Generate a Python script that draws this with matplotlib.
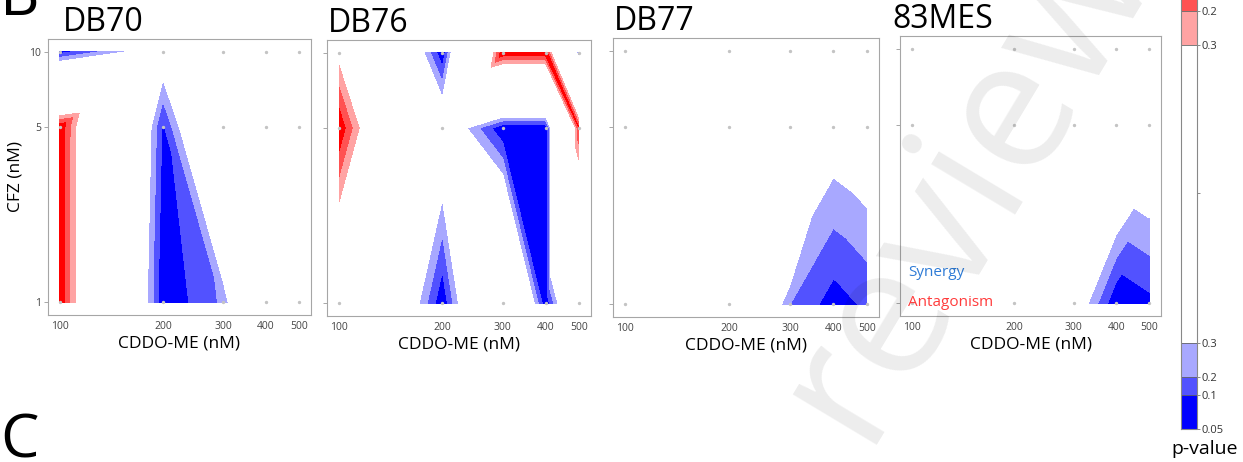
import numpy as np
import matplotlib.pyplot as plt
import matplotlib.tri as mtri
from matplotlib.colors import ListedColormap, BoundaryNorm
from matplotlib.cm import ScalarMappable

plt.rcParams['font.family'] = ['Open Sans', 'DejaVu Sans']

# dose grid
cddo = [100, 200, 300, 400, 500]
cfz = [1, 5, 10]
cddo_labels = ['100', '200', '300', '400', '500']
cfz_labels = ['1', '5', '10']

panel_names = ['DB70', 'DB76', 'DB77', '83MES']

# p-values, rows = CFZ 1, 5, 10 ; columns = CDDO-ME 100..500
p_db70 = [[0.01, 0.01, 0.22, 0.90, 0.95],
          [0.01, 0.08, 0.89, 1.00, 1.00],
          [0.05, 0.43, 0.95, 1.00, 1.00]]
p_db76 = [[0.70, 0.01, 0.90, 0.01, 0.80],
          [0.01, 0.50, 0.01, 0.01, 0.10],
          [0.36, 0.01, 0.01, 0.01, 0.18]]
p_db77 = [[1.00, 0.91, 0.20, 0.05, 0.12],
          [1.00, 1.00, 0.90, 0.40, 0.45],
          [1.00, 1.00, 1.00, 1.00, 1.00]]
p_83mes = [[1.00, 1.00, 0.45, 0.01, 0.07],
           [1.00, 1.00, 1.00, 0.76, 0.55],
           [1.00, 1.00, 1.00, 1.00, 1.00]]

# direction of the interaction: -1 synergy, +1 antagonism
eff_db70 = [[1, -1, -1, -1, -1],
            [1, -1, -1, -1, -1],
            [-1, -1, -1, -1, -1]]
eff_db76 = [[1, -1, 1, -1, -1],
            [1, -1, -1, -1, 1],
            [1, -1, 1, 1, -1]]
eff_db77 = [[-1, -1, -1, -1, -1],
            [-1, -1, 1, -1, -1],
            [-1, -1, -1, -1, -1]]
eff_83mes = [[-1, -1, -1, -1, -1],
             [-1, -1, -1, -1, -1],
             [-1, -1, -1, -1, -1]]

# how each grid cell is split in two triangles ('d' = TL-BR, 'u' = BL-TR)
split_db70 = ['dddd', 'uddd']
split_db76 = ['uddu', 'dudd']
split_db77 = ['duuu', 'dddd']
split_83mes = ['dduu', 'dddd']

pvals = [p_db70, p_db76, p_db77, p_83mes]
effects = [eff_db70, eff_db76, eff_db77, eff_83mes]
splits = [split_db70, split_db76, split_db77, split_83mes]

# colour bands: synergy p<0.1, <0.2, <0.3 | white | antagonism p<0.3, <0.2, <0.1
levels = [-1.001, -0.9, -0.8, -0.7, 0.7, 0.8, 0.9, 1.001]
band_colors = ['#0000ff', '#5252ff', '#a8a8ff', '#ffffff',
               '#ffa3a3', '#ff5252', '#ff0000']

W, H = 1243, 462
fig = plt.figure(figsize=(W / 100, H / 100), dpi=100)

# axes boxes in pixels: left, top, right, bottom
boxes = [(48, 39, 311, 315), (327, 40, 591, 316),
         (613, 38, 879, 317), (900, 36, 1161, 316)]
title_dx = [15, 1, 1, -8]

lx = np.log10(cddo)
ly = np.log10(cfz)
gx, gy = np.meshgrid(lx, ly)
nx = len(cddo)


def triangles(split):
    tris = []
    for j, row in enumerate(split):
        for i, s in enumerate(row):
            bl = j * nx + i
            br = bl + 1
            tl = bl + nx
            tr = tl + 1
            if s == 'd':
                tris += [[bl, br, tl], [br, tr, tl]]
            else:
                tris += [[bl, br, tr], [bl, tr, tl]]
    return tris


for k, name in enumerate(panel_names):
    l, t, r, b = boxes[k]
    ax = fig.add_axes([l / W, 1 - b / H, (r - l) / W, (b - t) / H])
    p = np.array(pvals[k])
    e = np.array(effects[k])
    field = e * (1 - p)
    tri = mtri.Triangulation(gx.ravel(), gy.ravel(), triangles(splits[k]))
    ax.tricontourf(tri, field.ravel(), levels=levels, colors=band_colors)
    ax.scatter(gx.ravel(), gy.ravel(), s=2, color='#c4c4c4', zorder=3)

    ax.set_xlim(lx[0] - 0.035, lx[-1] + 0.035)
    ax.set_ylim(-0.05, 1.05)
    ax.set_xticks(lx)
    ax.set_xticklabels(cddo_labels, fontsize=7.5, color='#444444')
    ax.tick_params(axis='x', length=0, pad=4)
    ax.set_yticks(ly)
    if k == 0:
        ax.set_yticklabels(cfz_labels, fontsize=7.5, color='#444444')
        ax.set_ylabel('CFZ (nM)', fontsize=12.5, labelpad=4)
    else:
        ax.set_yticklabels([])
    ax.tick_params(axis='y', length=3, width=0.6, color='#999999', pad=2)
    ax.set_xlabel('CDDO-ME (nM)', fontsize=12.5, labelpad=3)
    for sp in ax.spines.values():
        sp.set_color('#a6a6a6')
        sp.set_linewidth(0.8)
    ax.annotate(name, xy=(0, 1), xycoords='axes fraction',
                xytext=(title_dx[k], 8), textcoords='offset pixels',
                fontsize=23, ha='left', va='baseline')

# legend words inside the last panel
fig.text(908 / W, 1 - 273 / H, 'Synergy', color='#2e7bd6', fontsize=11, va='center')
fig.text(908 / W, 1 - 302 / H, 'Antagonism', color='#ff3b3b', fontsize=11, va='center')

# colour bar (uneven segment lengths as in the original)
cbar_edges = [0, 1, 1.53, 2.53, 11.3, 12.3, 12.83, 13.85]
cbar_ticks = [0, 1, 1.53, 2.53, 6.94, 11.3, 12.3]
cbar_labels = ['0.05', '0.1', '0.2', '0.3', '', '0.3', '0.2']
cax = fig.add_axes([1181 / W, 1 - 429 / H, 16 / W, 471 / H])
sm = ScalarMappable(norm=BoundaryNorm(cbar_edges, len(band_colors)),
                    cmap=ListedColormap(band_colors))
cb = fig.colorbar(sm, cax=cax, boundaries=cbar_edges, spacing='proportional',
                  drawedges=True)
cb.set_ticks(cbar_ticks)
cb.set_ticklabels(cbar_labels)
cb.ax.tick_params(labelsize=8, length=2, width=0.6, color='#777777',
                  labelcolor='#333333', pad=1)
cb.outline.set_edgecolor('#888888')
cb.outline.set_linewidth(0.8)
cb.dividers.set_color('#666666')
cb.dividers.set_linewidth(0.6)
fig.text(1205 / W, 1 - 449 / H, 'p-value', fontsize=14, ha='center', va='center')

# panel letters
fig.text(0.0, 1 - 15 / H, 'B', fontsize=44, ha='left', va='baseline')
fig.text(0.0, 1 - 458 / H, 'C', fontsize=44, ha='left', va='baseline')

# faint watermark
fig.text(862 / W, 1 - 445 / H, 'review', fontsize=132, rotation=59,
         rotation_mode='anchor', ha='left', va='baseline',
         color='black', alpha=0.075, zorder=10)

fig.savefig('out.png', dpi=100)
